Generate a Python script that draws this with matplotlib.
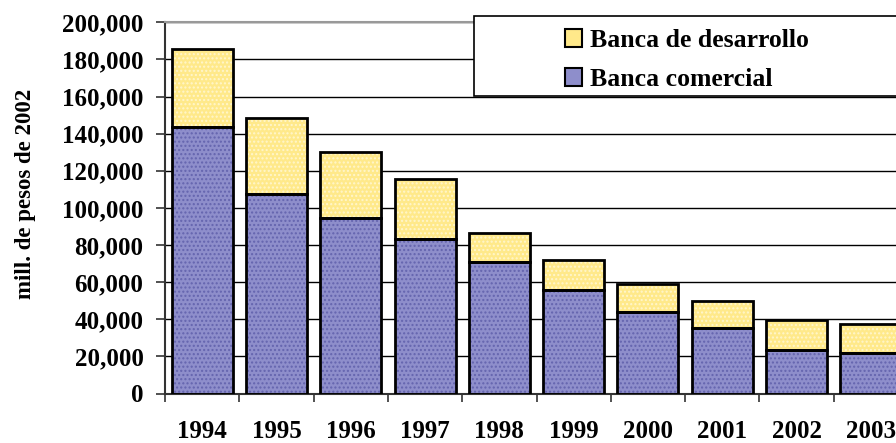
import matplotlib.pyplot as plt
import numpy as np
from matplotlib.patches import Rectangle, Patch
from matplotlib.ticker import FuncFormatter

years = ['1994', '1995', '1996', '1997', '1998', '1999', '2000', '2001', '2002', '2003']
comercial = [143400, 107300, 94300, 83200, 70600, 55900, 43700, 35200, 23700, 21900]
total = [185400, 148200, 130300, 115700, 86600, 71700, 59100, 50000, 39400, 37400]
desarrollo = [t - c for t, c in zip(total, comercial)]

plt.rcParams['font.family'] = ['Liberation Serif', 'DejaVu Serif']
plt.rcParams['font.weight'] = 'bold'
plt.rcParams['hatch.linewidth'] = 1.0

fig = plt.figure(figsize=(8.96, 4.43), dpi=100)
ax = fig.add_axes([165 / 896, (443 - 393.5) / 443, (908 - 165) / 896, (393.5 - 22.3) / 443])

x = np.arange(len(years))
w = 0.82

# pattern fill first, then black outline on top
ax.bar(x, comercial, w, color='#8E8ECB', edgecolor='#6464AE', hatch='....', linewidth=0, zorder=2)
ax.bar(x, desarrollo, w, bottom=comercial, color='#FFE98A', edgecolor='#FFF6CC', hatch='....', linewidth=0, zorder=2)
ax.bar(x, comercial, w, fill=False, edgecolor='black', linewidth=2, zorder=3)
ax.bar(x, desarrollo, w, bottom=comercial, fill=False, edgecolor='black', linewidth=2, zorder=3)

ax.set_xlim(-0.5, len(years) - 0.5)
ax.set_ylim(0, 200000)
ax.set_yticks(np.arange(0, 200001, 20000))
ax.yaxis.set_major_formatter(FuncFormatter(lambda v, p: f'{int(v):,}'))
ax.set_xticks(x)
ax.set_xticklabels(years)
ax.set_xticks(np.arange(-0.5, len(years), 1), minor=True)
ax.tick_params(axis='x', which='major', length=0, pad=19, labelsize=18)
ax.tick_params(axis='x', which='minor', length=6, width=1.2, color='#333333', direction='out')
ax.tick_params(axis='y', length=6.5, width=1.2, color='#333333', pad=9, labelsize=18)

ax.yaxis.grid(True, color='black', linewidth=1)
ax.set_axisbelow(True)
ax.spines['right'].set_visible(False)
ax.spines['top'].set_color('#999999')
ax.spines['top'].set_linewidth(1.5)
for s in ['left', 'bottom']:
    ax.spines[s].set_color('#333333')
    ax.spines[s].set_linewidth(1.5)

fig.text(25 / 896, 1 - 194 / 443, 'mill. de pesos de 2002', rotation=90,
         ha='center', va='center', fontsize=16.5, fontweight='bold')

# legend box
fig.patches.append(Rectangle((474 / 896, 1 - 96 / 443), 0.6, 80 / 443, transform=fig.transFigure,
                             facecolor='white', edgecolor='black', linewidth=1.2, zorder=5))
handles = [Patch(facecolor='#FFE98A', edgecolor='black', linewidth=1.5, label='Banca de desarrollo'),
           Patch(facecolor='#8E8ECB', edgecolor='black', linewidth=1.5, label='Banca comercial')]
leg = fig.legend(handles=handles, loc='upper left', bbox_to_anchor=(565 / 896, 1 - 29 / 443),
                 frameon=False, prop={'size': 18.5, 'weight': 'bold'}, handlelength=0.66, handleheight=0.66,
                 handletextpad=0.3, labelspacing=0.62, borderaxespad=0, borderpad=0)
leg.set_zorder(6)

plt.savefig('out.png', dpi=100)
